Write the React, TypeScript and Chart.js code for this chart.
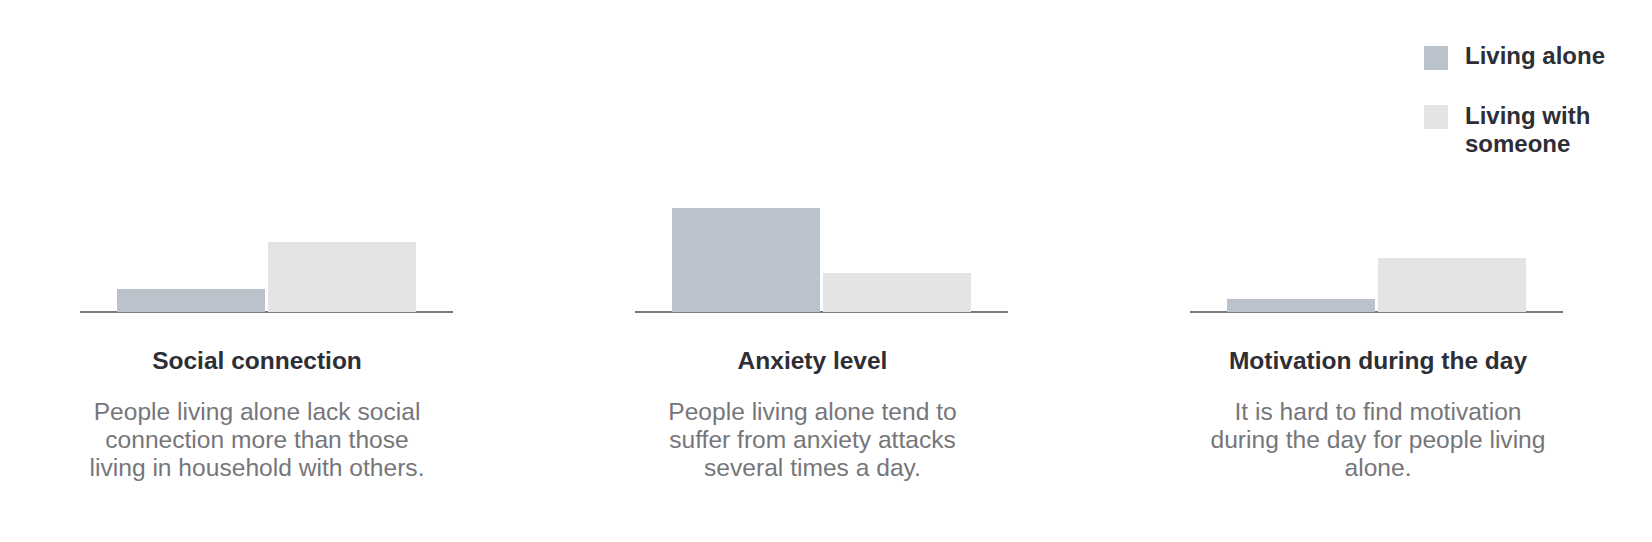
import React, { useEffect, useRef } from "react";
import { Chart, registerables } from "chart.js";

Chart.register(...registerables);

const categories = ["Social connection", "Anxiety level", "Motivation during the day"];
const descriptions = [
  ["People living alone lack social", "connection more than those", "living in household with others."],
  ["People living alone tend to", "suffer from anxiety attacks", "several times a day."],
  ["It is hard to find motivation", "during the day for people living", "alone."],
];
const seriesNames = ["Living alone", "Living with someone"];
const livingAlone = [23, 104, 13];
const livingWithSomeone = [70, 39, 54];
const yMax = 128;

const colorAlone = "#bac3cb";
const colorWith = "#e4e4e4";
const axisColor = "#7a7a7a";
const titleColor = "#2e2e36";
const descColor = "#76767a";
const FONT = '"Liberation Sans", Arial, Helvetica, sans-serif';

const panelLeft = [80, 635, 1190];
const textCenter = [257, 812.5, 1378];
const PANEL_W = 373;
const PLOT_H = 128;
const PAD_B = 4;
const BASE_Y = 312;

function PanelChart({ index }: { index: number }) {
  const ref = useRef<HTMLCanvasElement | null>(null);
  useEffect(() => {
    if (!ref.current) return;
    const chart = new Chart(ref.current, {
      type: "bar",
      data: {
        labels: [categories[index]],
        datasets: [
          {
            label: seriesNames[0],
            data: [livingAlone[index]],
            backgroundColor: colorAlone,
            borderWidth: 0,
          },
          {
            label: seriesNames[1],
            data: [livingWithSomeone[index]],
            backgroundColor: colorWith,
            borderWidth: 0,
          },
        ],
      },
      options: {
        animation: false,
        responsive: false,
        events: [],
        layout: { padding: { top: 0, left: 0, right: 0, bottom: PAD_B } },
        datasets: {
          bar: { categoryPercentage: 0.8097, barPercentage: 0.98 },
        },
        plugins: {
          legend: { display: false },
          tooltip: { enabled: false },
          title: { display: false },
        },
        scales: {
          x: {
            display: true,
            grid: { display: false, drawTicks: false },
            ticks: { display: false },
            border: { display: true, color: axisColor, width: 2 },
          },
          y: {
            display: false,
            min: 0,
            max: yMax,
          },
        },
      },
    });
    return () => chart.destroy();
  }, [index]);
  return (
    <canvas
      ref={ref}
      width={PANEL_W}
      height={PLOT_H + PAD_B}
      style={{
        position: "absolute",
        left: panelLeft[index],
        top: BASE_Y - PLOT_H,
        width: PANEL_W,
        height: PLOT_H + PAD_B,
      }}
    />
  );
}

export default function App() {
  return (
    <div
      style={{
        position: "absolute",
        left: 0,
        top: 0,
        width: 1652,
        height: 542,
        background: "#ffffff",
        fontFamily: FONT,
        overflow: "hidden",
      }}
    >
      {categories.map((c, i) => (
        <React.Fragment key={c}>
          <PanelChart index={i} />
          <div
            style={{
              position: "absolute",
              left: textCenter[i] - 250,
              width: 500,
              top: 347,
              textAlign: "center",
              fontSize: 24.5,
              lineHeight: "28px",
              fontWeight: 700,
              color: titleColor,
              whiteSpace: "nowrap",
            }}
          >
            {c}
          </div>
          <div
            style={{
              position: "absolute",
              left: textCenter[i] - 250,
              width: 500,
              top: 398,
              textAlign: "center",
              fontSize: 24.6,
              lineHeight: "28px",
              color: descColor,
              whiteSpace: "nowrap",
            }}
          >
            {descriptions[i].map((line, k) => (
              <div key={k}>{line}</div>
            ))}
          </div>
        </React.Fragment>
      ))}
      {/* Legend */}
      <div style={{ position: "absolute", left: 1424, top: 46, width: 24, height: 24, background: colorAlone }} />
      <div
        style={{
          position: "absolute",
          left: 1465,
          top: 42,
          fontSize: 24,
          lineHeight: "28px",
          fontWeight: 700,
          color: titleColor,
          whiteSpace: "nowrap",
        }}
      >
        {seriesNames[0]}
      </div>
      <div style={{ position: "absolute", left: 1424, top: 105, width: 24, height: 24, background: colorWith }} />
      <div
        style={{
          position: "absolute",
          left: 1465,
          top: 101.5,
          fontSize: 24,
          lineHeight: "28px",
          fontWeight: 700,
          color: titleColor,
          whiteSpace: "nowrap",
        }}
      >
        <div>Living with</div>
        <div>someone</div>
      </div>
    </div>
  );
}
